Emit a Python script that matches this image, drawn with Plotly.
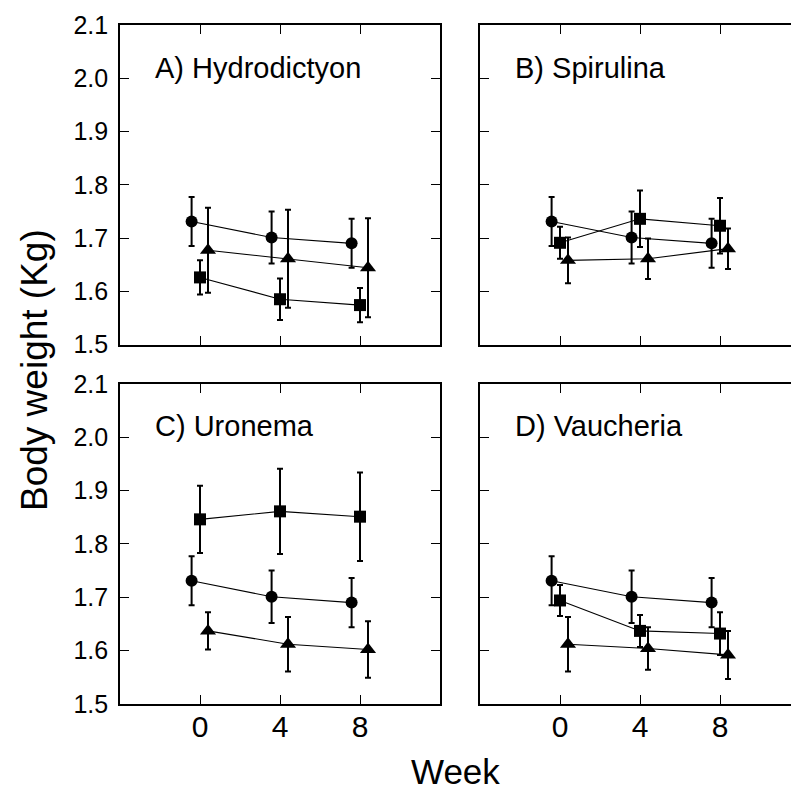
import plotly.graph_objects as go
from plotly.subplots import make_subplots

# Sampling weeks and the small horizontal offsets used to separate the groups
weeks = [0, 4, 8]
offset_circle = -0.42
offset_square = 0.0
offset_triangle = 0.4

# Control group (circles), identical in every panel
control_mean = [1.731, 1.701, 1.690]
control_err = [0.046, 0.049, 0.046]

# A) Hydrodictyon
hydro_sq_mean = [1.626, 1.585, 1.574]
hydro_sq_err = [0.032, 0.039, 0.032]
hydro_tri_mean = [1.677, 1.661, 1.644]
hydro_tri_err = [0.080, 0.092, 0.093]

# B) Spirulina
spir_sq_mean = [1.691, 1.736, 1.723]
spir_sq_err = [0.030, 0.053, 0.052]
spir_tri_mean = [1.658, 1.661, 1.680]
spir_tri_err = [0.043, 0.038, 0.038]

# C) Uronema
uro_sq_mean = [1.846, 1.861, 1.851]
uro_sq_err = [0.063, 0.080, 0.083]
uro_tri_mean = [1.637, 1.612, 1.602]
uro_tri_err = [0.035, 0.051, 0.053]

# D) Vaucheria
vau_sq_mean = [1.694, 1.637, 1.632]
vau_sq_err = [0.029, 0.030, 0.040]
vau_tri_mean = [1.612, 1.604, 1.592]
vau_tri_err = [0.051, 0.040, 0.045]

panel_titles = ["A) Hydrodictyon", "B) Spirulina", "C) Uronema", "D) Vaucheria"]
y_ticks = [1.5, 1.6, 1.7, 1.8, 1.9, 2.0, 2.1]
x_ticks = [0, 4, 8]

panels = [
    (1, 1, hydro_sq_mean, hydro_sq_err, hydro_tri_mean, hydro_tri_err),
    (1, 2, spir_sq_mean, spir_sq_err, spir_tri_mean, spir_tri_err),
    (2, 1, uro_sq_mean, uro_sq_err, uro_tri_mean, uro_tri_err),
    (2, 2, vau_sq_mean, vau_sq_err, vau_tri_mean, vau_tri_err),
]

W, H = 791, 790
FONT = "Arial, 'Liberation Sans', Helvetica, sans-serif"

fig = make_subplots(rows=2, cols=2)


def add_group(row, col, xoff, mean, err, symbol, size):
    fig.add_trace(
        go.Scatter(
            x=[w + xoff for w in weeks],
            y=mean,
            mode="lines+markers",
            line=dict(color="black", width=1.1),
            marker=dict(symbol=symbol, size=size, color="black"),
            error_y=dict(type="data", array=err, visible=True,
                         color="black", thickness=2, width=3),
            showlegend=False,
            cliponaxis=False,
        ),
        row=row, col=col,
    )


for row, col, sq_m, sq_e, tri_m, tri_e in panels:
    add_group(row, col, offset_circle, control_mean, control_err, "circle", 12)
    add_group(row, col, offset_square, sq_m, sq_e, "square", 12)
    add_group(row, col, offset_triangle, tri_m, tri_e, "triangle-up", 14)

# Panel placement in pixels (left, right) and (top, bottom)
col_px = {1: (120, 440), 2: (480, 791)}
row_px = {1: (25, 344.5), 2: (383.8, 704)}
col_range = {1: [-4, 12], 2: [-4, 11.55]}

for row in (1, 2):
    for col in (1, 2):
        xl, xr = col_px[col]
        yt, yb = row_px[row]
        fig.update_xaxes(
            domain=[xl / W, xr / W], range=col_range[col],
            tickvals=x_ticks, ticks="inside", ticklen=9, tickwidth=1.3,
            tickcolor="black", showline=True, linecolor="black", linewidth=1.6,
            mirror="ticks", showgrid=False, zeroline=False,
            showticklabels=(row == 2), ticklabelstandoff=-5,
            tickfont=dict(family=FONT, size=30, color="black"),
            automargin=False,
            row=row, col=col,
        )
        fig.update_yaxes(
            domain=[1 - yb / H, 1 - yt / H], range=[1.5, 2.1],
            tickvals=y_ticks, tickformat=".1f", ticks="inside", ticklen=9,
            tickwidth=1.3, tickcolor="black", showline=True, linecolor="black",
            linewidth=1.6, mirror=("ticks" if col == 1 else False),
            showgrid=False, zeroline=False,
            showticklabels=(col == 1), ticklabelstandoff=5,
            tickfont=dict(family=FONT, size=25, color="black"),
            automargin=False,
            row=row, col=col,
        )

annotations = []
for (row, col, *_), title in zip(panels, panel_titles):
    xl, _ = col_px[col]
    yt, _ = row_px[row]
    annotations.append(dict(
        text=title, xref="paper", yref="paper",
        x=(xl + 32.7) / W, y=1 - (yt + 42.5) / H,
        xanchor="left", yanchor="middle", showarrow=False,
        font=dict(family=FONT, size=29, color="black"),
    ))

annotations.append(dict(
    text="Body weight (Kg)", xref="paper", yref="paper",
    x=34 / W, y=1 - 370 / H, textangle=-90,
    xanchor="center", yanchor="middle", showarrow=False,
    font=dict(family=FONT, size=37, color="black"),
))
annotations.append(dict(
    text="Week", xref="paper", yref="paper",
    x=455 / W, y=1 - 771 / H,
    xanchor="center", yanchor="middle", showarrow=False,
    font=dict(family=FONT, size=35, color="black"),
))

fig.update_layout(
    width=W, height=H,
    margin=dict(l=0, r=0, t=0, b=0),
    paper_bgcolor="white", plot_bgcolor="white",
    annotations=annotations,
    showlegend=False,
)

fig.write_html("out.html")
